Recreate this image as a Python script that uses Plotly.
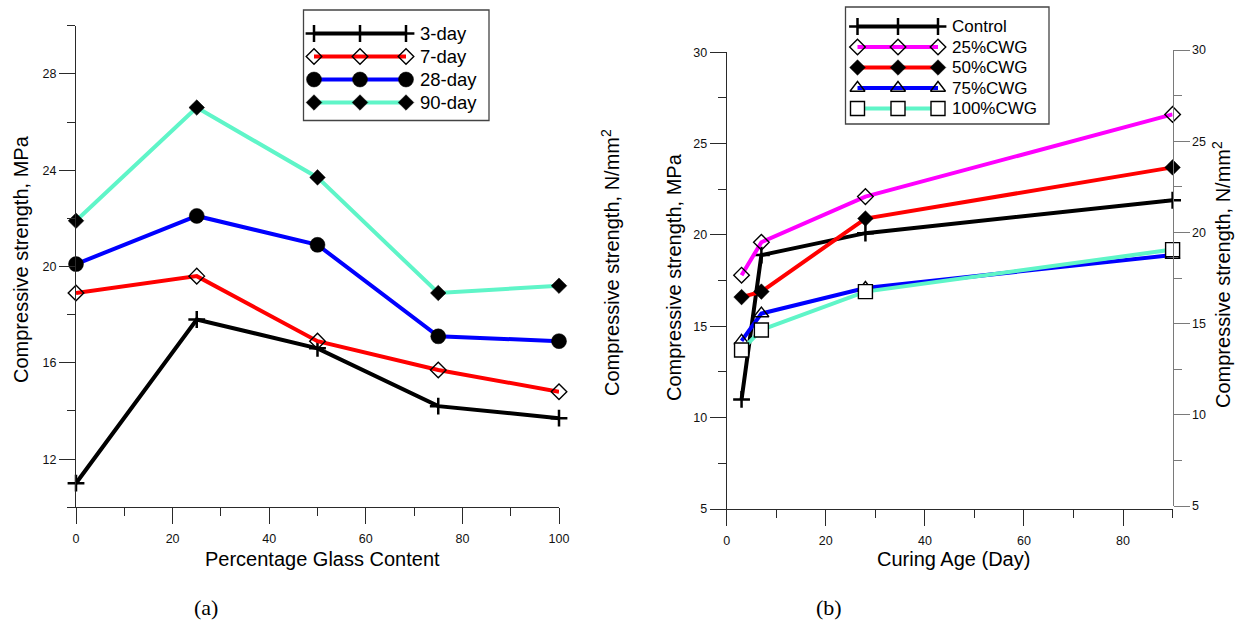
import plotly.graph_objects as go

W, H = 1235, 623

# ---- data -------------------------------------------------------------
glass_pct = [0, 25, 50, 75, 100]          # % glass content
curing_days = [3, 7, 28, 90]              # curing age, days

# compressive strength (MPa) at each glass content, one list per curing age
day3 = [11.0, 17.8, 16.6, 14.2, 13.7]
day7 = [18.9, 19.6, 16.9, 15.7, 14.8]
day28 = [20.1, 22.1, 20.9, 17.1, 16.9]
day90 = [21.9, 26.6, 23.7, 18.9, 19.2]

age_labels = ["3-day", "7-day", "28-day", "90-day"]
mix_labels = ["Control", "25%CWG", "50%CWG", "75%CWG", "100%CWG"]

by_age = [day3, day7, day28, day90]
# same results regrouped per mix (strength vs curing age)
by_mix = [[series[i] for series in by_age] for i in range(len(glass_pct))]

# ---- styles -----------------------------------------------------------
AQUA = "#5ff5c8"
age_styles = [
    dict(line="black", symbol="cross-thin", size=12, fill="black", lw=2.5),
    dict(line="#ff0000", symbol="diamond-open", size=12, fill="black", lw=1.4),
    dict(line="#0000ff", symbol="circle", size=15, fill="black", lw=0.5),
    dict(line=AQUA, symbol="diamond", size=12, fill="black", lw=0.5),
]
mix_styles = [
    dict(line="black", symbol="cross-thin", size=12, fill="black", lw=2.5),
    dict(line="#ff00ff", symbol="diamond-open", size=12, fill="black", lw=1.4),
    dict(line="#ff0000", symbol="diamond", size=12, fill="black", lw=0.5),
    dict(line="#0000ff", symbol="triangle-up-open", size=13, fill="black", lw=1.4),
    dict(line=AQUA, symbol="square", size=14, fill="white", lw=1.4),
]

FONT = "Liberation Sans, Arial, sans-serif"
LINE_W = 4


def marker_of(st):
    return dict(symbol=st["symbol"], size=st["size"], color=st["fill"],
                line=dict(color="black", width=st["lw"]))


def fx(px):
    return px / W


def fy(py):
    return 1 - py / H


fig = go.Figure()

# left panel: strength vs glass content
for name, ys, st in zip(age_labels, by_age, age_styles):
    fig.add_trace(go.Scatter(
        x=glass_pct, y=ys, name=name, mode="lines+markers",
        line=dict(color=st["line"], width=LINE_W),
        marker=marker_of(st), xaxis="x", yaxis="y", cliponaxis=False,
        showlegend=False))

# right panel: strength vs curing age
for name, ys, st in zip(mix_labels, by_mix, mix_styles):
    fig.add_trace(go.Scatter(
        x=curing_days, y=ys, name=name, mode="lines+markers",
        line=dict(color=st["line"], width=LINE_W),
        marker=marker_of(st), xaxis="x2", yaxis="y2", cliponaxis=False,
        showlegend=False))

# empty trace so the right-hand N/mm2 axis of panel (b) gets its own subplot
fig.add_trace(go.Scatter(x=[None], y=[None], xaxis="x2", yaxis="y4",
                         showlegend=False, hoverinfo="skip"))

# ---- hand-drawn legends (line sample with three markers) --------------
def draw_legend(box, labels, styles, rows_y, mx, text_x, fsize):
    x0, y0, x1, y1 = box
    fig.add_shape(type="rect", xref="x5", yref="y5", x0=x0, y0=y0, x1=x1, y1=y1,
                  line=dict(color="#444", width=1.3), fillcolor="white",
                  layer="below")
    for lab, st, yy in zip(labels, styles, rows_y):
        fig.add_trace(go.Scatter(
            x=mx, y=[yy] * len(mx), mode="lines+markers",
            line=dict(color=st["line"], width=LINE_W), marker=marker_of(st),
            xaxis="x5", yaxis="y5", showlegend=False, hoverinfo="skip",
            cliponaxis=False))
        fig.add_annotation(x=text_x, y=yy, xref="x5", yref="y5", text=lab,
                           showarrow=False, xanchor="left", yanchor="middle",
                           font=dict(family=FONT, size=fsize, color="black"))


draw_legend((303.5, 10, 489, 120.5), age_labels, age_styles,
            [33.5, 56.5, 79.5, 102.5], [314, 360, 406], 418, 18.5)
draw_legend((845.5, 7, 1049, 124), mix_labels, mix_styles,
            [26.5, 47, 67.5, 88, 108.5], [857.5, 898, 938], 950, 17)

# ---- axes -------------------------------------------------------------
DARK = "#2a2a2a"
GREY = "#7a7a7a"
TICKFONT = dict(family=FONT, size=12.5, color="#111")


def axis(color, dtick, tick0, minor_dtick, rng, domain, **kw):
    d = dict(range=rng, domain=domain, showline=True, linecolor=color,
             linewidth=1, ticks="outside", ticklen=16, tickwidth=1,
             tickcolor=color, dtick=dtick, tick0=tick0, tickmode="linear",
             minor=dict(ticks="outside", ticklen=8, tickwidth=1,
                        tickcolor=color, dtick=minor_dtick),
             showgrid=False, zeroline=False, tickfont=TICKFONT,
             fixedrange=True, automargin=False)
    d.update(kw)
    return d


fig.update_layout(
    width=W, height=H,
    margin=dict(l=0, r=0, t=0, b=0, pad=0, autoexpand=False),
    paper_bgcolor="white", plot_bgcolor="rgba(0,0,0,0)",
    showlegend=False,
    xaxis=axis(DARK, 20, 0, 10, [0, 100], [fx(76), fx(559)], anchor="y",
               ticklabelstandoff=4),
    yaxis=axis(DARK, 4, 12, 2, [10, 30], [fy(507.3), fy(25.7)], anchor="x"),
    yaxis3=axis(GREY, 4, 12, 2, [10, 30], [fy(507.3), fy(25.7)],
                anchor="x", overlaying="y", side="right"),
    xaxis2=axis(DARK, 20, 0, 10, [0, 90], [fx(726.7), fx(1172.6)], anchor="y2",
                ticklabelstandoff=4),
    yaxis2=axis(DARK, 5, 5, 2.5, [5, 30], [fy(509), fy(52.3)], anchor="x2"),
    yaxis4=axis(GREY, 5, 5, 2.5, [5, 30], [fy(506), fy(50)],
                anchor="x2", side="right"),
    xaxis5=dict(domain=[0, 1], range=[0, W], visible=False, fixedrange=True,
                anchor="y5", automargin=False),
    yaxis5=dict(domain=[0, 1], range=[H, 0], visible=False, fixedrange=True,
                anchor="x5", automargin=False),
)

# ---- titles and captions ---------------------------------------------
TITLE = dict(family=FONT, size=20, color="black")


def label(x, y, text, angle=0, font=TITLE):
    fig.add_annotation(x=x, y=y, xref="x5", yref="y5", text=text,
                       showarrow=False, textangle=angle,
                       xanchor="center", yanchor="middle", font=font)


label(322, 559, "Percentage Glass Content")
label(953.5, 559, "Curing Age (Day)")
label(21, 259, "Compressive strength, MPa", -90)
label(610, 263, "Compressive strength, N/mm<sup>2</sup>", -90)
label(674, 277, "Compressive strength, MPa", -90)
label(1221, 275, "Compressive strength, N/mm<sup>2</sup>", -90)

CAP = dict(family="Liberation Serif, Times New Roman, serif", size=22,
           color="black")
label(206, 607, "(a)", font=CAP)
label(829, 607, "(b)", font=CAP)

fig.write_html("out.html")
